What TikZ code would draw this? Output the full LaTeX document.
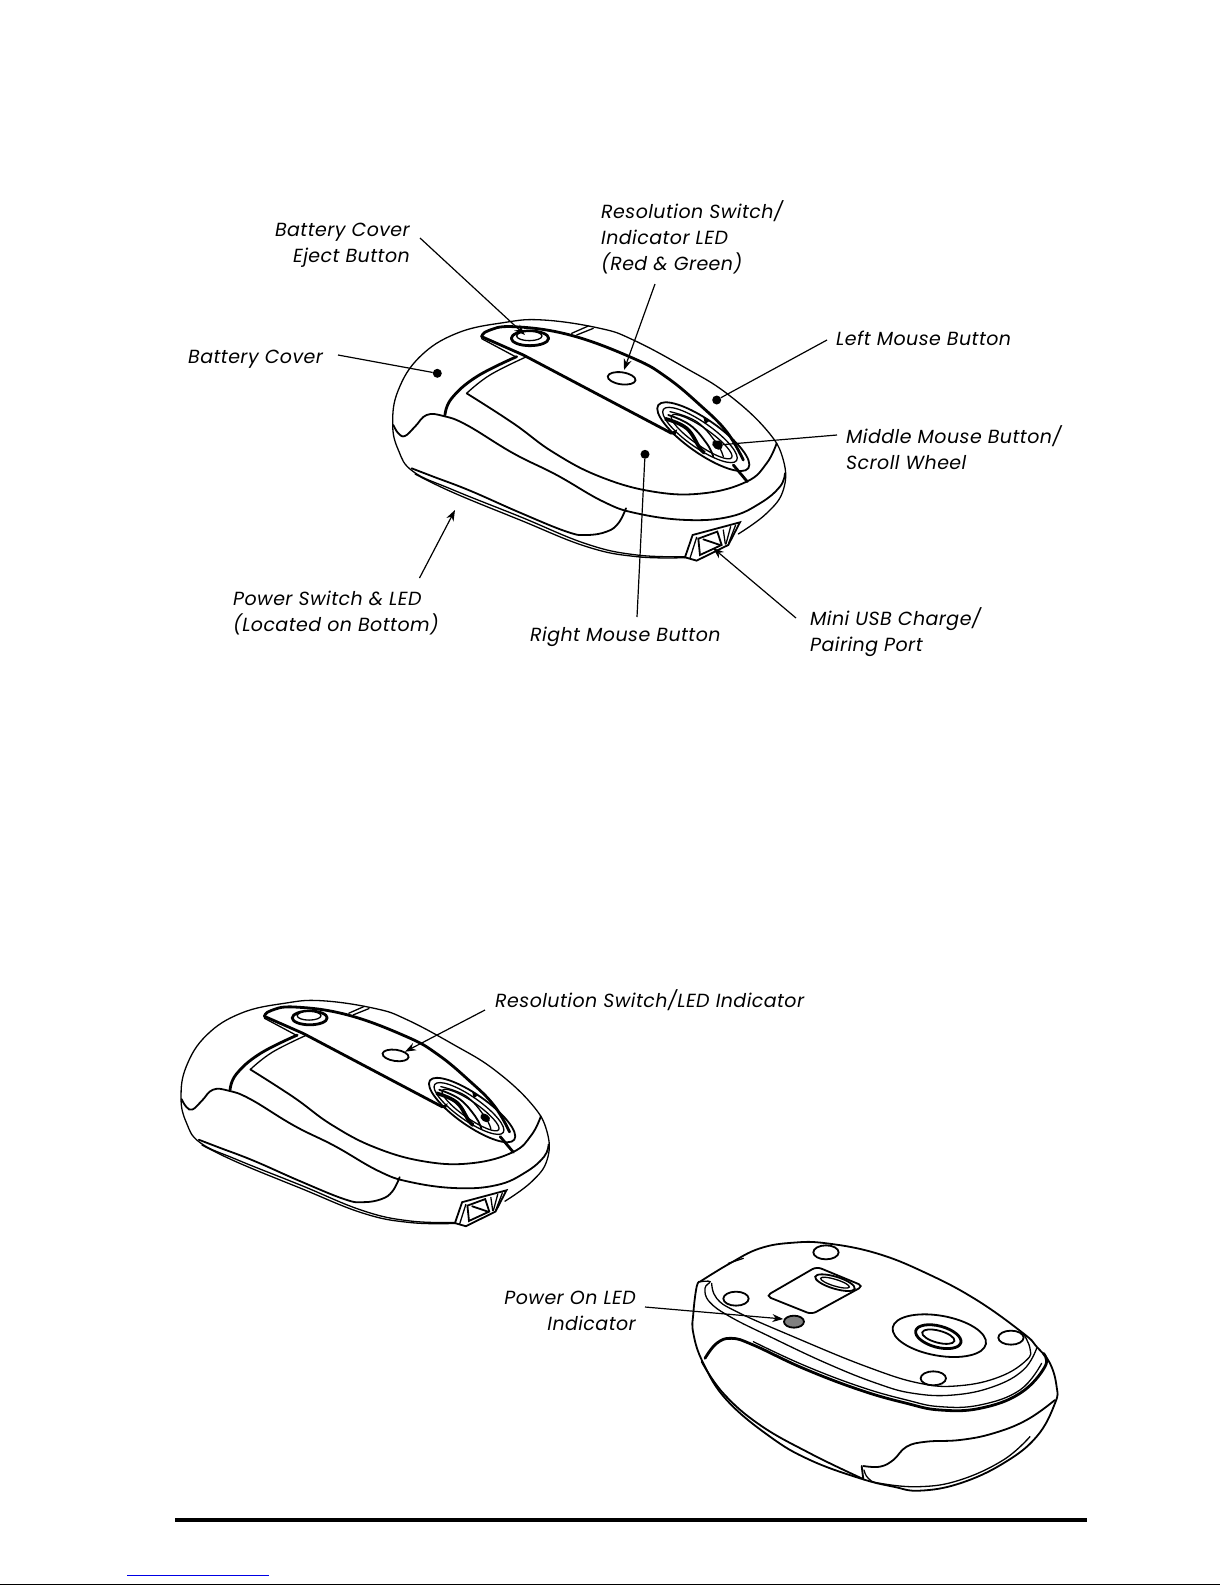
\documentclass[tikz,border=0pt]{standalone}
\usepackage{fontspec}
\usepackage{tikz}
\usetikzlibrary{arrows.meta}
\setmainfont{Poppins}[LetterSpace=2.3]
\definecolor{linkblue}{rgb}{0,0,0.9}
\tikzset{
	x=1pt,y=-1pt,
	>={Stealth[length=11pt,width=8pt]},
	callout/.style={font=\itshape\fontsize{19}{26}\selectfont,inner sep=0pt},
	leader/.style={line width=1.2pt},
	leaderdot/.style={circle,fill=black,inner sep=0pt,minimum size=9pt},
	thinline/.style={line width=1.3pt,line cap=round},
	midline/.style={line width=1.8pt,line cap=round},
	heavyline/.style={line width=2.8pt,line cap=round,line join=round},
	zoomed/.style={x=0.3333pt,y=-0.3333pt},
	soft/.style={smooth,tension=0.7}
}
\newcommand{\drawmouse}{%
	% body
	\draw[thinline] plot[soft] coordinates {(945,770) (800,765) (650,732) (450,650) (250,570) (130,515) (85,450) (68,370) (85,270) (150,170) (260,100) (400,68) (520,60) (690,85) (790,120) (940,200) (1070,280) (1190,390) (1240,480) (1240,570) (1190,640) (1105,702)};
	\draw[thinline] plot[soft] coordinates {(135,522) (250,578) (450,660) (650,740) (800,770) (945,773)};
	\draw[midline] plot[soft] coordinates {(70,375) (85,400) (105,408) (135,380) (170,345) (220,348) (290,375) (430,460) (560,525) (700,605) (800,640) (950,660) (1080,650) (1170,610) (1230,560) (1245,520)};
	\draw[midline] plot[soft] coordinates {(768,625) (745,670) (710,695) (650,705) (590,695) (450,638) (300,572) (190,530) (125,505)};
	\draw[midline] plot[soft] coordinates {(290,280) (430,370) (550,457) (690,530) (850,575) (1000,580) (1130,545) (1190,490) (1220,430)};
	% cover edge
	\draw[heavyline] plot[soft] coordinates {(225,345) (245,295) (320,230) (440,170)};
	\draw[thinline] plot[soft] coordinates {(290,280) (360,225) (470,170)};
	% scroll wheel
	\draw[midline,rotate around={-35:(1000,410)}] (1000,410) ellipse [x radius=165,y radius=50];
	\draw[thinline,rotate around={-35:(990,405)}] (990,405) ellipse [x radius=134,y radius=38];
	\draw[thinline,rotate around={-35:(995,410)}] (995,410) ellipse [x radius=110,y radius=26];
	\draw[line width=3.6pt] plot[soft] coordinates {(885,356) (950,385) (990,445) (1005,458)};
	\draw[midline] plot[soft] coordinates {(895,345) (960,375) (1010,430) (1030,470)};
	\draw[thinline] plot[soft] coordinates {(900,335) (980,365) (1040,430) (1060,470)};
	\fill (900,398) -- (922,388) -- (915,408) -- cycle;
	\fill (1000,350) -- (1020,362) -- (1005,372) -- cycle;
	\fill[rotate around={-35:(1042,435)}] (1042,435) ellipse [x radius=17,y radius=12];
	% top strip
	\draw[heavyline] plot[soft] coordinates {(335,110) (355,92) (430,80) (600,105) (790,175) (890,232) (990,315) (1070,395) (1120,480)};
	\draw[heavyline] (335,110) -- (460,165) -- (905,400);
	\draw[thinline] (335,116) -- (440,172);
	\draw[heavyline] (1090,495) -- (1132,545);
	\draw[thinline] (605,100) -- (655,78);
	\draw[thinline] (620,105) -- (670,85);
	% eject button and LED
	\draw[heavyline] (480,115) ellipse [x radius=56,y radius=22];
	\draw[thinline,fill=white] (478,108) ellipse [x radius=38,y radius=14];
	\draw[midline,rotate around={-8:(755,235)}] (755,235) ellipse [x radius=42,y radius=18];
	% usb port
	\draw[midline,fill=white] (945,772) -- (968,705) -- (1110,667) -- (1075,735) -- (980,782) -- cycle;
	\draw[thinline] (960,775) -- (980,712);
	\draw[midline] (985,716) -- (1042,695) -- (1055,735) -- (990,765) -- cycle;
	\draw[midline] (1000,718) -- (1050,735);
	\draw[thinline] (1060,690) -- (1066,732);
	\draw[thinline] (1082,680) -- (1068,732);
	\draw[thinline] (1097,675) -- (1076,730);
}
\begin{document}
\begin{tikzpicture}
	\useasboundingbox (0,0) rectangle (1225,1585);
	% top mouse
	\begin{scope}[shift={(370,300)},zoomed]
		\drawmouse
	\end{scope}
	% second mouse
	\begin{scope}[shift={(159.8,982)},x=0.3123pt,y=-0.3123pt]
		\drawmouse
	\end{scope}
	% underside
	\begin{scope}[shift={(660,1220)},zoomed]
		\draw[midline] plot[soft] coordinates {(120,185) (110,200) (100,280) (100,340) (130,430) (200,540) (330,650) (450,720) (600,775) (700,800) (780,812) (900,790) (1030,730) (1130,650) (1185,550) (1190,500) (1170,430) (1130,380) (1090,340) (950,240) (800,160) (650,100) (500,70) (400,68) (300,85) (210,130) (120,185)};
		\draw[thinline] plot[soft] coordinates {(122,185) (150,185) (135,205) (148,245) (210,290) (330,350) (500,430) (650,490) (760,520) (880,525) (1000,500) (1090,450) (1130,385)};
		\draw[thinline] plot[soft] coordinates {(155,190) (170,235) (230,275) (400,350) (620,440) (780,490) (900,497) (1020,470) (1100,420) (1110,385) (1090,340)};
		\draw[heavyline] plot[soft] coordinates {(135,415) (170,370) (215,355) (280,375) (430,445) (600,510) (740,550) (840,570) (960,565) (1080,520) (1155,440) (1150,400)};
		\draw[thinline] plot[soft] coordinates {(280,365) (430,435) (600,500) (740,540) (840,560) (960,555) (1080,510) (1145,430)};
		\draw[midline] plot[soft] coordinates {(125,425) (190,520) (300,615) (450,700) (605,775)};
		\draw[midline] plot[soft] coordinates {(610,738) (660,740) (700,720) (740,680) (800,665) (900,660) (1000,640) (1100,600) (1185,540)};
		\draw[midline] (605,738) -- (610,778);
		\draw[thinline] plot[soft] coordinates {(612,750) (625,775) (660,790) (780,800) (900,780) (1030,720) (1110,650)};
		\draw[thinline] (205,130) -- (250,115);
		% feet
		\foreach \footx/\footy in {498/97,228/236,1053/353,820/475}
			\draw[midline] (\footx,\footy) ellipse [x radius=38,y radius=21];
		% battery plate
		\draw[midline,rounded corners=5pt] (318,228) -- (470,140) -- (610,198) -- (455,283) -- cycle;
		\draw[midline,rotate around={-17:(525,188)}] (525,188) ellipse [x radius=62,y radius=18];
		\draw[thinline,rotate around={-17:(525,188)}] (525,188) ellipse [x radius=45,y radius=10];
		% led
		\draw[midline,fill=gray] (402,305) ellipse [x radius=30,y radius=18];
		% sensor
		\draw[midline,rotate around={-10:(838,347)}] (838,347) ellipse [x radius=142,y radius=60];
		\draw[heavyline,rotate around={-15:(835,350)}] (835,350) ellipse [x radius=70,y radius=32];
		\draw[midline,rotate around={-15:(835,350)}] (835,350) ellipse [x radius=50,y radius=18];
	\end{scope}
	% labels
	\node[callout,anchor=east,align=right] (ejectlabel) at (410,245) {Battery Cover\\Eject Button};
	\node[callout,anchor=west,align=left] (reslabel) at (601,237) {Resolution Switch/\\Indicator LED\\(Red \& Green)};
	\node[callout,anchor=west] (leftlabel) at (836,338) {Left Mouse Button};
	\node[callout,anchor=west,align=left] (midlabel) at (846,448) {Middle Mouse Button/\\Scroll Wheel};
	\node[callout,anchor=west] (coverlabel) at (188,359) {Battery Cover};
	\node[callout,anchor=west,align=left] (powerlabel) at (233,613) {Power Switch \& LED\\(Located on Bottom)};
	\node[callout,anchor=west] (rightlabel) at (530,637) {Right Mouse Button};
	\node[callout,anchor=west,align=left] (usblabel) at (810,632) {Mini USB Charge/\\Pairing Port};
	\node[callout,anchor=west] (res2label) at (495,1000) {Resolution Switch/LED Indicator};
	\node[callout,anchor=east,align=right] (onlabel) at (636,1311) {Power On LED\\Indicator};
	% leader ends
	\node[leaderdot] (coverdot) at (437.3,373.3) {};
	\node[leaderdot] (leftdot) at (716.7,400) {};
	\node[leaderdot] (middot) at (718.3,445) {};
	\node[leaderdot] (rightdot) at (645,454.3) {};
	\coordinate (coverstart) at (338,355);
	\coordinate (ejectstart) at (420,238);
	\coordinate (ejecttip) at (525,335);
	\coordinate (resstart) at (655,284);
	\coordinate (restip) at (624,370);
	\coordinate (leftstart) at (827,340);
	\coordinate (midstart) at (837,435);
	\coordinate (rightstart) at (637,617);
	\coordinate (usbstart) at (796,618);
	\coordinate (usbtip) at (713,548);
	\coordinate (powerstart) at (419.5,578);
	\coordinate (powertip) at (455,510);
	\coordinate (res2start) at (485,1010);
	\coordinate (res2tip) at (405,1051.7);
	\coordinate (onstart) at (645,1307);
	\coordinate (ontip) at (783.3,1319);
	\draw[leader] (coverstart) -- (coverdot);
	\draw[leader] (leftstart) -- (leftdot);
	\draw[leader] (midstart) -- (middot);
	\draw[leader] (rightstart) -- (rightdot);
	\draw[leader,->] (ejectstart) -- (ejecttip);
	\draw[leader,->] (resstart) -- (restip);
	\draw[leader,->] (usbstart) -- (usbtip);
	\draw[leader,->] (powerstart) -- (powertip);
	\draw[leader,->] (res2start) -- (res2tip);
	\draw[leader,->] (onstart) -- (ontip);
	% footer rules
	\fill (175,1518) rectangle (1087,1522);
	\draw[linkblue,line width=1pt] (127,1575) -- (269,1575);
	\draw[line width=1pt] (0,1584) -- (1220,1584);
\end{tikzpicture}
\end{document}
